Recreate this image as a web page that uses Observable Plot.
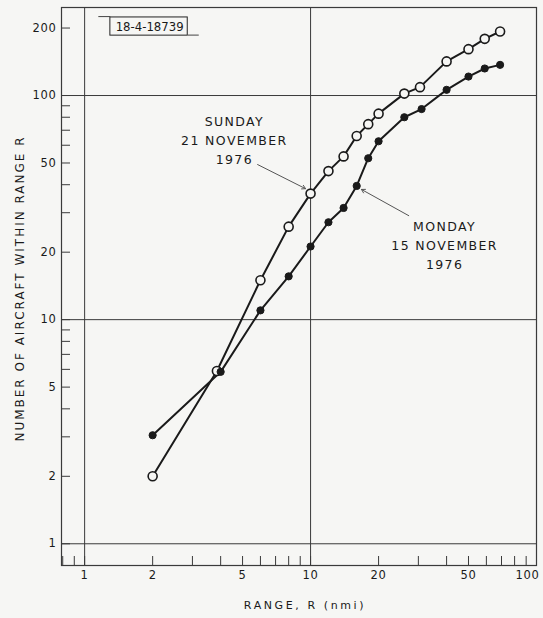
<!DOCTYPE html>
<html>
<head>
<meta charset="utf-8">
<script src="https://cdn.jsdelivr.net/npm/d3@7"></script>
<script src="https://cdn.jsdelivr.net/npm/@observablehq/plot@0.6"></script>
<style>
  html, body { margin: 0; padding: 0; background: #f6f6f4; }
  #chart { width: 543px; height: 618px; }
</style>
</head>
<body>
<div id="chart"></div>
<script>
// ---- data ----
const sundayRange = [2, 3.85, 6, 8, 10, 12, 14, 16, 18, 20, 26, 30.5, 40, 50, 59, 69];
const sundayCount = [2, 5.9, 15, 26, 36.5, 46, 53.5, 66, 74.5, 83, 102, 109, 142, 161, 179, 193];
const mondayRange = [2, 4, 6, 8, 10, 12, 14, 16, 18, 20, 26, 31, 40, 50, 59, 69];
const mondayCount = [3.05, 5.85, 11, 15.6, 21.2, 27.2, 31.5, 39.5, 52.5, 62.5, 80, 87, 106, 121.5, 132, 137];

const xTickLabels = [1, 2, 5, 10, 20, 50, 100];
const xMinorTicks = [0.8, 0.9, 3, 4, 6, 7, 8, 9, 30, 40, 60, 70, 80, 90];
const yTickLabels = [1, 2, 5, 10, 20, 50, 100, 200];
const yMinorTicks = [3, 4, 6, 7, 8, 9, 30, 40, 60, 70, 80, 90];
const xGrid = [1, 10];
const yGrid = [1, 10, 100];

const sundayLabel = "SUNDAY\n21 NOVEMBER\n1976";
const mondayLabel = "MONDAY\n15 NOVEMBER\n1976";
const figureId = "18-4-18739";
const xTitle = "RANGE, R (nmi)";
const yTitle = "NUMBER OF AIRCRAFT WITHIN RANGE R";

// ---- build tables ----
const sunday = sundayRange.map((r, i) => ({r, n: sundayCount[i]}));
const monday = mondayRange.map((r, i) => ({r, n: mondayCount[i]}));
const xLast = xTickLabels[xTickLabels.length - 1];

const W = 543, H = 618;
const mL = 61, mR = 7, mT = 7, mB = 53;
const plotW = W - mL - mR, plotH = H - mT - mB;
const tickLen = 9;
const bg = "#f6f6f4";
const ink = "#1a1a1a";
const line = "#3a3a3a";
const font = "'DejaVu Sans', sans-serif";

const chart = Plot.plot({
  width: W,
  height: H,
  marginLeft: mL,
  marginRight: mR,
  marginTop: mT,
  marginBottom: mB,
  style: {background: bg, fontFamily: font, fontSize: "12px", color: ink},
  x: {type: "log", domain: [0.79, 100], axis: null},
  y: {type: "log", domain: [0.8, 247], axis: null},
  marks: [
    Plot.frame({stroke: line, strokeWidth: 1.2}),
    Plot.ruleX(xGrid, {stroke: line, strokeWidth: 1}),
    Plot.ruleY(yGrid, {stroke: line, strokeWidth: 1}),
    // inward ticks
    Plot.tickY([...yTickLabels, ...yMinorTicks], {y: d => d, stroke: line, strokeWidth: 1, insetRight: plotW - tickLen}),
    Plot.tickX([...xTickLabels, ...xMinorTicks], {x: d => d, stroke: line, strokeWidth: 1, insetTop: plotH - tickLen}),
    // tick labels
    Plot.text(xTickLabels.filter(d => d !== xLast), {x: d => d, text: d => String(d), frameAnchor: "bottom", lineAnchor: "middle", dy: 10, fontSize: 11.5, fill: ink}),
    Plot.text([xLast], {x: d => d, text: d => String(d), frameAnchor: "bottom", lineAnchor: "middle", dy: 10, dx: 3, textAnchor: "end", fontSize: 11.5, fill: ink}),
    Plot.text(yTickLabels, {y: d => d, text: d => String(d), frameAnchor: "left", lineAnchor: "middle", dx: -5, textAnchor: "end", fontSize: 11.5, fill: ink}),
    // axis titles
    Plot.text([xTitle], {text: d => d, frameAnchor: "bottom", lineAnchor: "middle", textAnchor: "middle", dy: 40, dx: 6, fontSize: 11, fill: ink}),
    Plot.text([yTitle], {text: d => d, frameAnchor: "left", lineAnchor: "middle", textAnchor: "middle", dx: -41, dy: 2, rotate: -90, fontSize: 12, fill: ink}),
    // figure id box
    Plot.rect([{}], {x1: 1.3, x2: 2.86, y1: 185, y2: 223, fill: bg, stroke: "#222", strokeWidth: 1}),
    Plot.link([{}], {x1: 1.15, x2: 1.3, y1: 225, y2: 225, stroke: "#444", strokeWidth: 1}),
    Plot.link([{}], {x1: 2.86, x2: 3.2, y1: 186, y2: 186, stroke: "#444", strokeWidth: 1}),
    Plot.text([figureId], {x: 1.94, y: 203, text: d => d, fontFamily: "'DejaVu Sans Condensed', 'Liberation Sans Narrow', sans-serif", fontSize: 13, fill: ink}),
    // series
    Plot.line(sunday, {x: "r", y: "n", stroke: ink, strokeWidth: 2}),
    Plot.line(monday, {x: "r", y: "n", stroke: ink, strokeWidth: 2}),
    Plot.dot(sunday, {x: "r", y: "n", r: 4.5, fill: bg, stroke: ink, strokeWidth: 1.6}),
    Plot.dot(monday, {x: "r", y: "n", r: 3.6, fill: ink, stroke: ink, strokeWidth: 1}),
    // annotations
    Plot.text([sundayLabel], {x: 4.6, y: 64, text: d => d, fontSize: 12.5, lineHeight: 1.5, fill: ink}),
    Plot.text([mondayLabel], {x: 39.2, y: 21.8, text: d => d, fontSize: 12.5, lineHeight: 1.5, fill: ink}),
    Plot.arrow([{}], {x1: 5.83, y1: 49.2, x2: 9.5, y2: 38.4, stroke: "#555", strokeWidth: 1, headLength: 6}),
    Plot.arrow([{}], {x1: 27.2, y1: 29.1, x2: 16.8, y2: 38.1, stroke: "#555", strokeWidth: 1, headLength: 6})
  ]
});

// letter spacing, matched by text content
const tickSet = new Set([...xTickLabels, ...yTickLabels].map(String));
chart.querySelectorAll("text").forEach(t => {
  const s = t.textContent;
  let v = null;
  if (s === xTitle) v = 2.6;
  else if (s === yTitle) v = 2;
  else if (s.startsWith("SUNDAY") || s.startsWith("MONDAY")) v = 1.4;
  else if (tickSet.has(s)) v = 0.7;
  if (v != null) t.setAttribute("letter-spacing", v);
});
document.getElementById("chart").appendChild(chart);
</script>
</body>
</html>
